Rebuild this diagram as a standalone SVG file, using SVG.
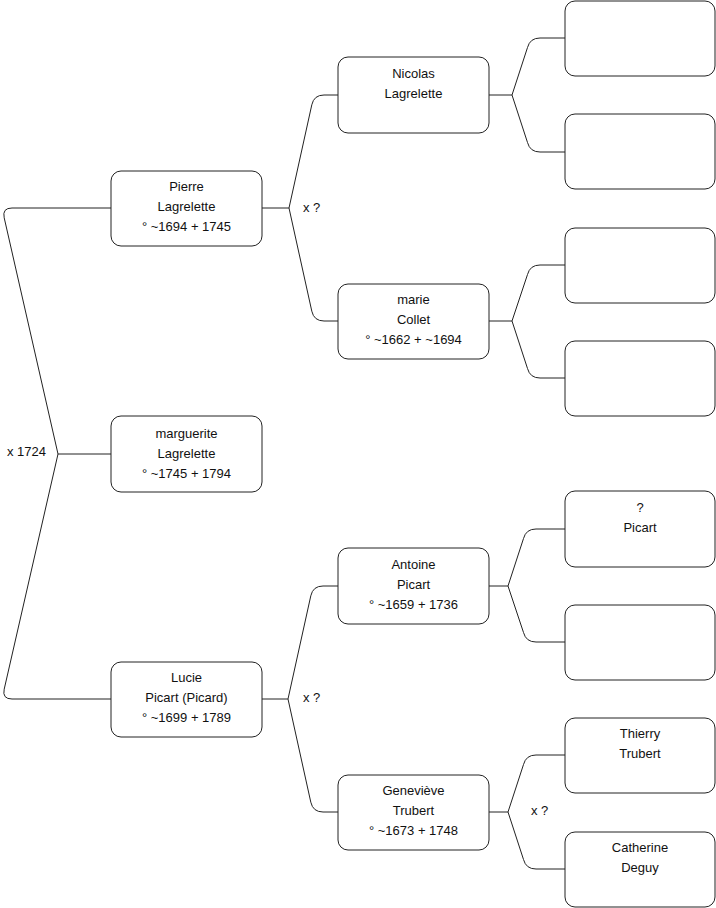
<svg xmlns="http://www.w3.org/2000/svg" width="716" height="908" viewBox="0 0 716 908">
<style>
.n rect{fill:#fff;stroke:#222;stroke-width:1}
text{font-family:"Liberation Sans",Arial,sans-serif;font-size:13px;fill:#111;text-anchor:middle}
.e path{fill:none;stroke:#222;stroke-width:1}
.l{text-anchor:start}
</style>
<rect width="716" height="908" fill="#fff"/>
<g class="e" id="connectors">
<path d="M111,454 L58,454 L4.2,217.8 Q2,208 12,208 L111,208"/>
<path d="M58,454 L4.2,689.2 Q2,699 12,699 L111,699"/>
<path d="M262,208 L289,208 L311.8,104.8 Q314,95 324,95 L338,95"/>
<path d="M289,208 L311.8,311.2 Q314,321 324,321 L338,321"/>
<path d="M262,699 L288,699 L310.8,595.8 Q313,586 323,586 L338,586"/>
<path d="M288,699 L310.8,802.2 Q313,812 323,812 L338,812"/>
<path d="M489,95 L512,95 L527.5,47.5 Q530,38 540,38 L565,38"/>
<path d="M512,95 L527.5,142.5 Q530,152 540,152 L565,152"/>
<path d="M489,321 L512,321 L527.5,274.5 Q530,265 540,265 L565,265"/>
<path d="M512,321 L527.5,368.5 Q530,378 540,378 L565,378"/>
<path d="M489,586 L508,586 L523.5,538.5 Q526,529 536,529 L565,529"/>
<path d="M508,586 L523.5,632.5 Q526,642 536,642 L565,642"/>
<path d="M489,812 L508,812 L523.5,764.5 Q526,755 536,755 L565,755"/>
<path d="M508,812 L523.5,859.5 Q526,869 536,869 L565,869"/>
<text class="l" x="7" y="456">x 1724</text>
<text class="l" x="303" y="212">x ?</text>
<text class="l" x="303" y="702">x ?</text>
<text class="l" x="531" y="815">x ?</text>
</g>
<g class="n" id="pierre"><rect x="111" y="171" width="151" height="75" rx="10"/><text x="186.5" y="191">Pierre</text><text x="186.5" y="211">Lagrelette</text><text x="186.5" y="231">° ~1694 + 1745</text></g>
<g class="n" id="marguerite"><rect x="111" y="416" width="151" height="76" rx="10"/><text x="186.5" y="438">marguerite</text><text x="186.5" y="458">Lagrelette</text><text x="186.5" y="478">° ~1745 + 1794</text></g>
<g class="n" id="lucie"><rect x="111" y="662" width="151" height="75" rx="10"/><text x="186.5" y="682">Lucie</text><text x="186.5" y="702">Picart (Picard)</text><text x="186.5" y="722">° ~1699 + 1789</text></g>
<g class="n" id="nicolas"><rect x="338" y="57" width="151" height="76" rx="10"/><text x="413.5" y="78">Nicolas</text><text x="413.5" y="98">Lagrelette</text></g>
<g class="n" id="marie"><rect x="338" y="284" width="151" height="75" rx="10"/><text x="413.5" y="304">marie</text><text x="413.5" y="324">Collet</text><text x="413.5" y="344">° ~1662 + ~1694</text></g>
<g class="n" id="antoine"><rect x="338" y="548" width="151" height="76" rx="10"/><text x="413.5" y="569">Antoine</text><text x="413.5" y="589">Picart</text><text x="413.5" y="609">° ~1659 + 1736</text></g>
<g class="n" id="genevieve"><rect x="338" y="775" width="151" height="75" rx="10"/><text x="413.5" y="795">Geneviève</text><text x="413.5" y="815">Trubert</text><text x="413.5" y="835">° ~1673 + 1748</text></g>
<g class="n" id="p1"><rect x="565" y="1" width="150" height="75" rx="10"/></g>
<g class="n" id="p2"><rect x="565" y="114" width="150" height="75" rx="10"/></g>
<g class="n" id="p3"><rect x="565" y="228" width="150" height="75" rx="10"/></g>
<g class="n" id="p4"><rect x="565" y="341" width="150" height="75" rx="10"/></g>
<g class="n" id="picart"><rect x="565" y="491" width="150" height="76" rx="10"/><text x="640" y="512">?</text><text x="640" y="532">Picart</text></g>
<g class="n" id="p6"><rect x="565" y="605" width="150" height="75" rx="10"/></g>
<g class="n" id="thierry"><rect x="565" y="718" width="150" height="75" rx="10"/><text x="640" y="738">Thierry</text><text x="640" y="758">Trubert</text></g>
<g class="n" id="catherine"><rect x="565" y="832" width="150" height="75" rx="10"/><text x="640" y="852">Catherine</text><text x="640" y="872">Deguy</text></g>
</svg>
